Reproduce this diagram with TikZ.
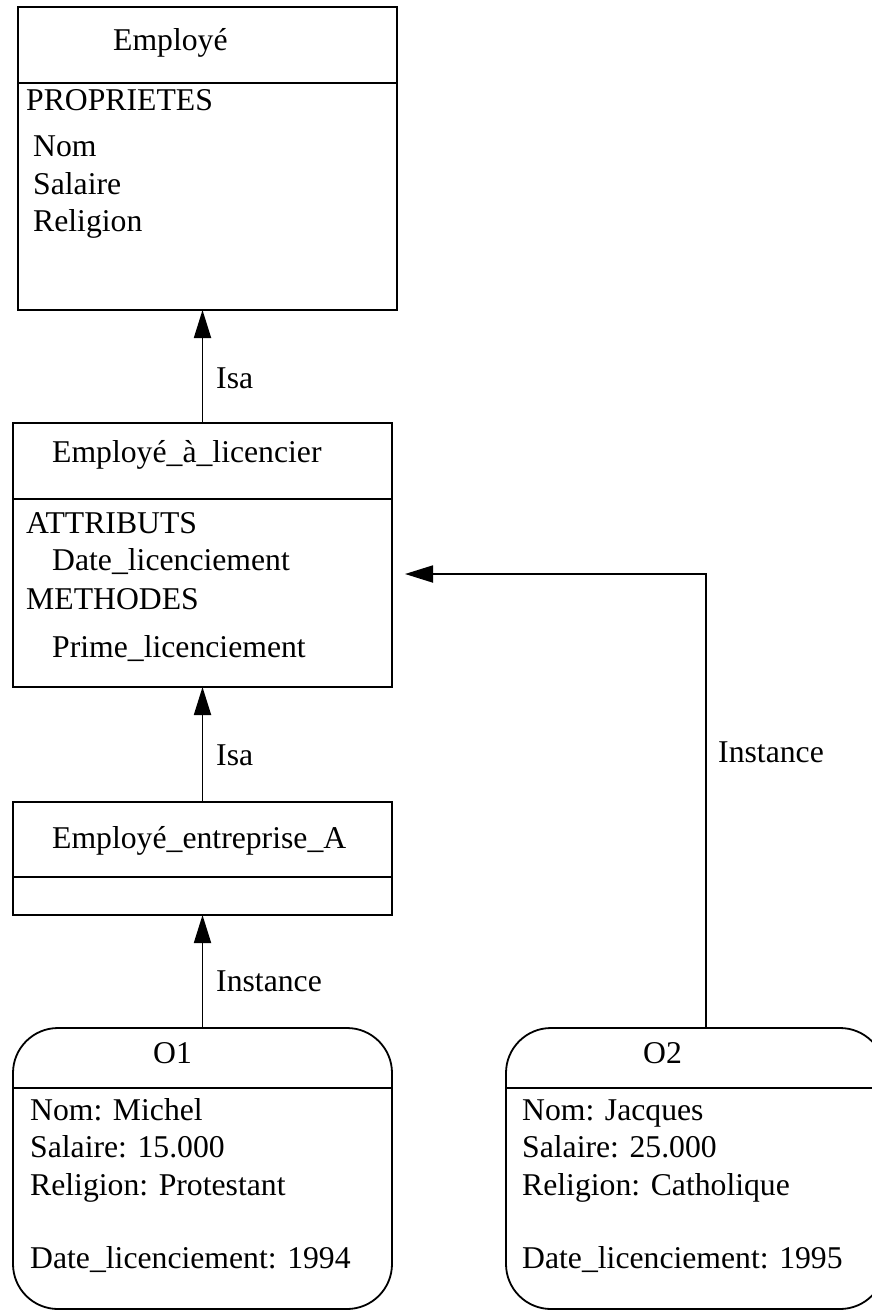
\documentclass[tikz,border=0pt]{standalone}
\usepackage{fontspec}
\setmainfont{Liberation Serif}
\usetikzlibrary{arrows.meta}
\begin{document}
\begin{tikzpicture}[x=1pt,y=-1pt,
  box/.style={draw, line width=1.8pt, inner sep=0pt, outer sep=0pt, anchor=north west},
  obj/.style={box, rounded corners=45pt},
  div/.style={line width=1.8pt},
  txt/.style={anchor=base west, inner sep=0pt, font=\fontsize{31.7}{38}\selectfont},
  arr/.style={line width=1.8pt, -{Triangle[length=28pt,width=17pt]}}]
\useasboundingbox (0,0) rectangle (871,1311);
% boxes
\node[box, minimum width=379pt, minimum height=303pt] (emp) at (18,7) {};
\node[box, minimum width=379pt, minimum height=264pt] (ea) at (13,423) {};
\node[box, minimum width=379pt, minimum height=113pt] (eb) at (13,802) {};
\node[obj, minimum width=379pt, minimum height=281pt] (o1) at (13,1028) {};
\node[obj, minimum width=379pt, minimum height=281pt] (o2) at (506,1028) {};
% dividers
\draw[div] (emp.west |- 0,83) -- (emp.east |- 0,83);
\draw[div] (ea.west |- 0,499) -- (ea.east |- 0,499);
\draw[div] (eb.west |- 0,877) -- (eb.east |- 0,877);
\draw[div] (o1.west |- 0,1088) -- (o1.east |- 0,1088);
\draw[div] (o2.west |- 0,1088) -- (o2.east |- 0,1088);
% texts box 1
\node[txt] (t1) at (113,51) {Employé};
\node[txt] (t2) at (26,111) {PROPRIETES};
\node[txt] (t3) at (33,157) {Nom};
\node[txt] (t4) at (33,194) {Salaire};
\node[txt] (t5) at (33,231) {Religion};
% texts box 2
\node[txt] (t6) at (52,462) {Employé\_à\_licencier};
\node[txt] (t7) at (26,533) {ATTRIBUTS};
\node[txt] (t8) at (52,570) {Date\_licenciement};
\node[txt] (t9) at (26,609) {METHODES};
\node[txt] (t10) at (52,657) {Prime\_licenciement};
% texts box 3
\node[txt] (t11) at (52,848) {Employé\_entreprise\_A};
% O1
\node[txt] (t12) at (153,1063) {O1};
\node[txt] (t13) at (30,1120) {Nom: Michel};
\node[txt] (t14) at (30,1157) {Salaire: 15.000};
\node[txt] (t15) at (30,1195) {Religion: Protestant};
\node[txt] (t16) at (30,1268) {Date\_licenciement: 1994};
% O2
\node[txt] (t17) at (643,1063) {O2};
\node[txt] (t18) at (522,1120) {Nom: Jacques};
\node[txt] (t19) at (522,1157) {Salaire: 25.000};
\node[txt] (t20) at (522,1195) {Religion: Catholique};
\node[txt] (t21) at (522,1268) {Date\_licenciement: 1995};
% connectors
\draw[arr] (ea.north) -- (ea.north |- emp.south);
\node[txt] (l1) at (216,388) {Isa};
\draw[arr] (eb.north) -- (ea.south);
\node[txt] (l2) at (216,765) {Isa};
\draw[arr] (o1.north) -- (eb.south);
\node[txt] (l3) at (216,991) {Instance};
\coordinate (bend) at (706,574);
\draw[arr, shorten >=13pt] (o2.north -| bend) -- (bend) -- (ea.east |- bend);
\node[txt] (l4) at (718,762) {Instance};
\end{tikzpicture}
\end{document}
